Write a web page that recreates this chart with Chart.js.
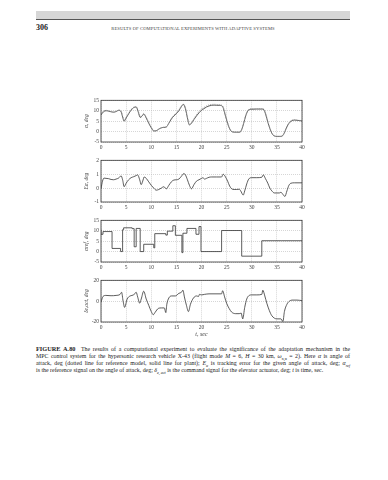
<!DOCTYPE html>
<html>
<head>
<meta charset="utf-8">
<script src="https://cdn.jsdelivr.net/npm/chart.js@4"></script>
<style>
  body { margin: 0; background: #fff; width: 388px; height: 480px; position: relative; overflow: hidden;
         font-family: "Liberation Serif", "DejaVu Serif", serif; color: #333; }
  .bar { position: absolute; left: 36px; top: 11px; width: 314px; height: 8px; background: #d6d6d6;
         border-bottom: 1px solid #555; }
  .pageno { position: absolute; left: 36px; top: 23px; font-size: 8px; font-weight: bold; color: #222; }
  .runhead { position: absolute; left: 36px; width: 314px; top: 26px; text-align: center; font-size: 4.6px;
             letter-spacing: 0.1px; color: #444; }
  canvas { position: absolute; }
  .cap { position: absolute; left: 36px; width: 314px; font-size: 5.9px; line-height: 7px; color: #222; }
  .cap div { text-align: justify; text-align-last: justify; white-space: nowrap; }
  .cap div.last { text-align-last: left; }
  .cap b { font-size: 6.3px; }
  .cap sub { font-size: 4px; line-height: 0; }
</style>
</head>
<body>
<div class="bar"></div>
<div class="pageno">306</div>
<div class="runhead">RESULTS OF COMPUTATIONAL EXPERIMENTS WITH ADAPTIVE SYSTEMS</div>

<canvas id="c1" width="227" height="57" style="left:83px;top:95px"></canvas>
<canvas id="c2" width="227" height="57" style="left:83px;top:155px"></canvas>
<canvas id="c3" width="227" height="57" style="left:83px;top:215px"></canvas>
<canvas id="c4" width="227" height="63" style="left:83px;top:275px"></canvas>

<div class="cap" style="top:345px">
  <div><b>FIGURE A.80</b>&nbsp; The results of a computational experiment to evaluate the significance of the adaptation mechanism in the</div>
  <div>MPC control system for the hypersonic research vehicle X-43 (flight mode <i>M</i> = 6, <i>H</i> = 30 km, <i>ω</i><sub>n,α</sub> = 2). Here <i>α</i> is angle of</div>
  <div>attack, deg (dotted line for reference model, solid line for plant); <i>E<sub>α</sub></i> is tracking error for the given angle of attack, deg; <i>α<sub>ref</sub></i></div>
  <div class="last">is the reference signal on the angle of attack, deg; <i>δ<sub>e, act</sub></i> is the command signal for the elevator actuator, deg; <i>t</i> is time, sec.</div>
</div>

<script>
// angle of attack, plant (solid)
const tAlpha = [0,0.5,1,1.5,2,2.5,3,3.5,4,4.3,4.6,5,5.5,6,6.5,7,7.4,7.8,8.2,8.5,9,9.5,10,10.5,11,11.5,12,12.5,13,13.5,14,14.5,15,15.5,16,16.4,16.8,17.2,17.6,18,18.5,19,19.5,20,20.5,21,21.5,22,22.5,23,23.5,24,24.3,24.6,25,25.4,25.8,26.2,27,27.6,28,28.4,28.8,29.2,29.6,30,31,32,32.4,32.8,33.2,33.6,34,34.4,35,35.6,36,36.4,36.8,37.2,37.6,38,38.5,39,40];
const alphaPlant = [8,9.5,10,9.8,9.5,9.3,9.6,10.2,9.5,7,5,6.5,8.5,10.3,11.5,11.8,9.5,6.8,7.5,8.4,6.5,4,1.8,0.3,0.4,1.2,1.8,2,2.2,4,6,7.5,8.6,10,12,13,11,6.5,3.2,4,5.8,7.5,9,10.2,11,11.8,12.3,12.6,12.7,12.6,12.6,12.4,11.5,9,5.5,2.5,0.5,-0.2,-0.3,-0.3,1,4,7.5,9.8,10.6,10.7,10.8,10.8,10.5,8,4.5,1.5,-0.8,-2,-2.3,-2.3,-2.2,-1,1.2,3.2,4.5,5.2,5.5,5.4,5.1];
// reference model (dotted)
const alphaModel = [8.4,9.9,10.2,9.9,9.6,9.4,9.7,10.3,9.8,7.6,5.3,6.9,8.9,10.6,11.7,11.9,10,7.3,7.8,8.7,7,4.5,2.2,0.5,0.4,1.2,1.8,2.1,2.2,4.2,6.4,7.9,9,10.4,12.4,13.2,11.5,7,3.3,4.2,6.2,8.1,9.6,10.8,11.6,12.3,12.8,13,13.1,13,12.9,12.7,12,9.6,6,2.9,0.7,-0.1,-0.3,-0.3,0.8,4.3,8,10.2,10.9,11,11,11,10.9,8.6,5,1.8,-0.8,-2,-2.4,-2.4,-2.3,-1.2,1,3.4,4.8,5.5,5.7,5.5,5.2];

// tracking error
const tErr = [0,0.3,0.6,1,1.5,2,2.5,3,3.5,4,4.3,4.6,5,5.5,6,6.5,7,7.3,7.7,8,8.3,8.6,9,9.5,10,10.5,11,11.5,12,12.5,13,13.5,14,14.5,15,15.5,16,16.5,16.8,17.2,17.6,18,18.5,19,19.5,20,20.3,20.6,21,21.5,22,23,24,24.3,24.7,25.2,25.6,26,26.5,27,27.5,27.8,28.3,28.6,29,29.4,30,31,32,32.3,32.7,33.2,33.6,34,34.5,35,35.5,35.8,36.2,36.6,37,37.4,37.8,38.5,40];
const errAlpha = [-0.05,0.5,0.72,0.7,0.68,0.62,0.6,0.65,0.72,0.88,0.6,0.1,0.35,0.6,0.75,0.82,0.9,0.95,0.6,0.25,0.5,0.8,0.7,0.45,0.2,0,-0.15,-0.1,0,0.1,-0.05,0.2,0.45,0.58,0.6,0.65,0.85,1.05,0.95,0.6,0.2,-0.05,0.25,0.5,0.6,0.7,0.75,0.65,0.7,0.78,0.8,0.8,0.8,1.0,0.85,0.5,0.15,-0.05,-0.1,-0.1,-0.08,-0.2,-0.5,-0.2,0.3,0.65,0.75,0.75,0.78,0.95,0.7,0.35,0,-0.2,-0.35,-0.35,-0.35,-0.3,-0.45,-0.6,-0.2,0.2,0.35,0.38,0.38];

// reference signal (piecewise constant, value holds from each time on)
const tRef = [0,0.4,2.2,3.9,4.3,4.5,6.2,6.6,7.0,7.8,8.5,10.5,10.7,12.9,13.2,14.3,14.8,16.1,16.3,17.1,18.9,19.5,19.9,24,28,32,36,40];
const alphaRef = [10.5,8.3,9.6,1.5,0,10.5,11.4,11.0,2.3,11.1,0,3.5,1.8,8.6,7.9,9.8,12.4,7.8,-0.5,8.8,11.1,8.3,12.0,0,10.1,-2.2,5.2,5.2];

// elevator actuator command
const tDelta = [0,0.4,1,2,3,3.8,4.1,4.4,4.7,5.2,5.8,6.5,7.0,7.3,7.7,8.0,8.5,9,9.5,10,10.4,10.8,11.4,12,12.6,12.9,13.1,13.5,14,14.8,15.5,16,16.3,16.6,17.0,17.4,17.8,18.4,19,19.4,19.6,20,20.6,21.5,24,24.2,24.6,25,25.5,26,26.8,27.5,27.9,28.2,28.6,29,29.5,30,31,32,32.2,32.6,33,33.5,34,35,35.8,36.2,36.5,37,37.5,38,39,40];
const deltaAct = [-1,4.5,5.5,5.2,5.5,6.5,8.5,0,-6,2,5,6,8.5,4,-2,2,9.5,2,-4,-10,-13,-10.5,-7,-6.5,-6.5,-11,-3,3,5,5,7.5,8.5,10.5,4,-4,-10,-3,3,5,4.5,6.5,6,6.5,7,7,10,4,-2,-7,-10.5,-12,-12,-11.5,-17,-6,2,5.5,6,6,6.5,10.5,5,-2,-9,-14,-17,-17,-19.5,-10,-3,0,1,1,0.5];

const xTicks = [0, 5, 10, 15, 20, 25, 30, 35, 40];

const tickFont = { family: "Liberation Serif", size: 5.5 };
const pts = (ts, vs) => ts.map((t, i) => ({ x: t, y: vs[i] }));

// black box round the plot area, like the MATLAB axes
const frame = {
  id: 'frame',
  afterDraw(chart) {
    const a = chart.chartArea, c = chart.ctx;
    c.save();
    c.strokeStyle = '#333';
    c.lineWidth = 0.8;
    c.strokeRect(a.left, a.top, a.right - a.left, a.bottom - a.top);
    c.restore();
  }
};

function makeChart(id, datasets, yMin, yMax, yStep, yTitle, xTitle) {
  new Chart(document.getElementById(id), {
    type: 'line',
    data: { datasets: datasets },
    options: {
      responsive: false,
      devicePixelRatio: 1,
      animation: false,
      layout: { padding: { top: 4, right: 8, left: 0, bottom: 0 } },
      plugins: { legend: { display: false }, tooltip: { enabled: false } },
      elements: { point: { radius: 0 } },
      scales: {
        x: {
          type: 'linear', min: 0, max: 40,
          afterBuildTicks: s => { s.ticks = xTicks.map(v => ({ value: v })); },
          afterFit: s => { s.height = xTitle ? 16 : 10; },
          ticks: { font: tickFont, color: '#444', padding: 2, maxRotation: 0 },
          grid: { color: '#bbb', lineWidth: 0.6, drawTicks: false },
          border: { display: false, dash: [1, 1] },
          title: { display: !!xTitle, text: xTitle, font: { family: "Liberation Serif", size: 6, style: 'italic' },
                   color: '#444', padding: { top: 1, bottom: 0 } }
        },
        y: {
          min: yMin, max: yMax,
          ticks: { stepSize: yStep, font: tickFont, color: '#444', padding: 2 },
          afterFit: s => { s.width = 18; },
          grid: { color: '#bbb', lineWidth: 0.6, drawTicks: false },
          border: { display: false, dash: [1, 1] },
          title: { display: true, text: yTitle, font: { family: "Liberation Serif", size: 5.5, style: 'italic' },
                   color: '#444', padding: 0 }
        }
      }
    },
    plugins: [frame]
  });
}

const solid = { borderColor: '#333', borderWidth: 0.8, fill: false, cubicInterpolationMode: 'monotone' };

makeChart('c1', [
  Object.assign({ data: pts(tAlpha, alphaModel) }, solid, { borderColor: '#999', borderDash: [1.2, 1] }),
  Object.assign({ data: pts(tAlpha, alphaPlant) }, solid)
], -5, 15, 5, 'α, deg');

makeChart('c2', [
  Object.assign({ data: pts(tErr, errAlpha) }, solid)
], -1, 2, 1, 'Eα, deg');

makeChart('c3', [
  { data: pts(tRef, alphaRef), borderColor: '#333', borderWidth: 0.8, fill: false, stepped: 'after' }
], -5, 15, 5, 'αref, deg');

makeChart('c4', [
  Object.assign({ data: pts(tDelta, deltaAct) }, solid)
], -20, 20, 20, 'δe,act, deg', 't, sec');
</script>
</body>
</html>
